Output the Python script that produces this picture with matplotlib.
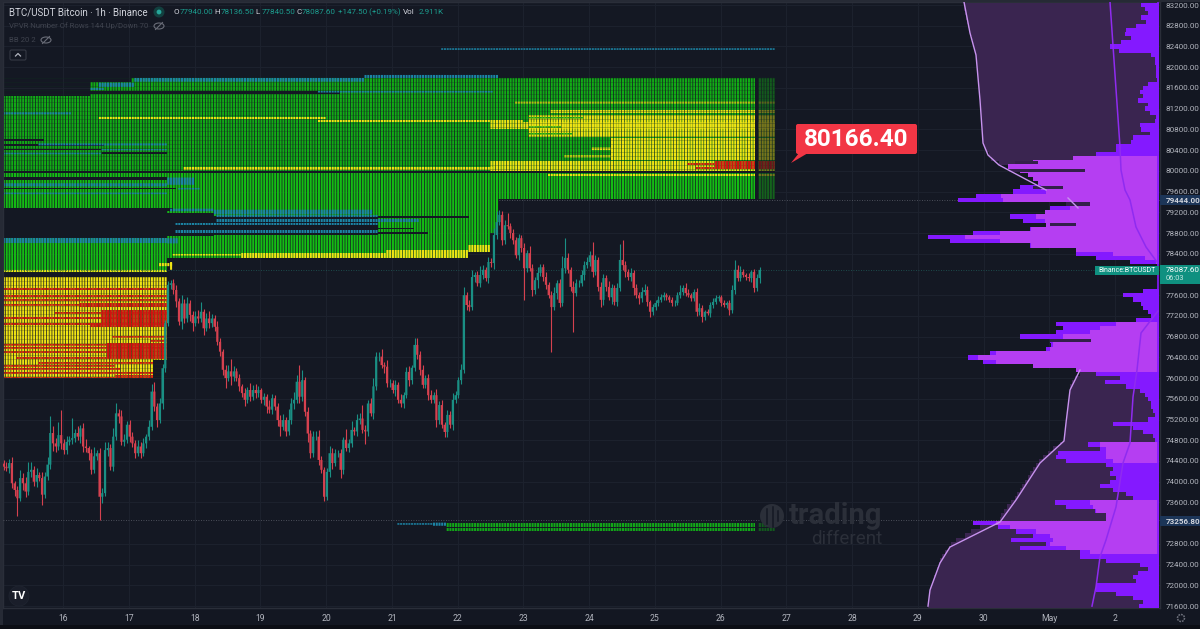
import numpy as np
import matplotlib
matplotlib.use("Agg")
import matplotlib.pyplot as plt
from matplotlib.patches import Circle, Ellipse, FancyBboxPatch, Polygon, Rectangle

plt.rcParams['font.family'] = ['Roboto', 'DejaVu Sans']

# hourly closes, first candle sits just after the left edge of the pane
closes = [
    74290, 74260, 74360, 73970, 73840, 73680, 74070, 73970, 73810, 74190,
    74230, 74000, 74130, 74070, 73750, 74100, 74330, 74940, 74740, 74680,
    74900, 74740, 74610, 74770, 74810, 74840, 74940, 74870, 75030, 74680,
    74650, 74550, 74230, 74490, 74550, 73710, 73780, 74610, 74650, 74290,
    74870, 75320, 75260, 74770, 74810, 75100, 74870, 74740, 74550, 74680,
    74550, 74740, 74870, 75060, 75740, 75450, 75190, 75510, 76190, 77060,
    77800, 77830, 77700, 77480, 77090, 77440, 77150, 77440, 77220, 77060,
    77190, 77150, 77280, 76960, 77150, 77060, 77150, 76990, 76700, 76510,
    76160, 76000, 76130, 76030, 76130, 76000, 75840, 75710, 75580, 75770,
    75640, 75770, 75710, 75770, 75580, 75640, 75450, 75390, 75610, 75450,
    75190, 75060, 75190, 74970, 75190, 75510, 75580, 75930, 75640, 75960,
    75350, 74930, 74550, 74870, 74870, 74420, 74230, 73710, 74190, 74550,
    74360, 74550, 74550, 74230, 74810, 74650, 74740, 75000, 74970, 75190,
    75220, 75000, 74970, 75510, 75320, 75840, 76415, 76415, 76250, 76220,
    75900, 75900, 75770, 75870, 75580, 75510, 75670, 76120, 75960, 76200,
    76640, 76450, 76160, 75870, 76000, 75670, 75580, 75670, 75190, 75480,
    75100, 74960, 75290, 75100, 75580, 75670, 75960, 76160, 77600, 77410,
    77370, 77950, 77990, 77830, 77990, 78090, 77930, 78240, 78220, 78760,
    79010, 79150, 78660, 78950, 78930, 78800, 78660, 78370, 78700, 78510,
    78120, 78410, 78120, 77700, 77890, 78030, 78140, 77950, 77800, 77600,
    77370, 77640, 77830, 77450, 78120, 78320, 78090, 77760, 77640, 77830,
    77830, 77990, 78180, 78240, 78370, 78050, 78280, 77760, 77510, 77930,
    77760, 77560, 77740, 77470, 77740, 78280, 78180, 78050, 77950, 78030,
    77740, 77600, 77540, 77660, 77700, 77470, 77280, 77370, 77450, 77510,
    77560, 77600, 77560, 77510, 77450, 77450, 77600, 77660, 77740, 77640,
    77600, 77540, 77660, 77280, 77350, 77180, 77280, 77250, 77410, 77470,
    77540, 77560, 77450, 77410, 77450, 77310, 77700, 78090, 77930, 78050,
    77990, 77950, 77930, 78050, 77740, 77930, 78087.6,
]
upper_wick = [
    60, 90, 70, 110, 40, 80, 150, 90, 120, 190,
    160, 70, 130, 60, 110, 90, 140, 320, 130, 100,
    250, 480, 90, 110, 70, 385, 80, 130, 60, 110,
    140, 40, 90, 180, 60, 100, 90, 150, 120, 80,
    170, 190, 80, 130, 110, 70, 100, 90, 60, 120,
    80, 100, 60, 130, 150, 190, 70, 110, 90, 60,
    80, 60, 90, 100, 70, 170, 90, 120, 60, 70,
    100, 130, 190, 60, 110, 150, 90, 70, 120, 80,
    60, 90, 120, 240, 100, 60, 70, 40, 90, 60,
    130, 90, 110, 80, 40, 70, 60, 120, 90, 60,
    70, 90, 110, 60, 210, 100, 150, 130, 330, 200,
    70, 90, 60, 100, 110, 120, 70, 60, 80, 130,
    100, 90, 60, 80, 60, 210, 90, 170, 60, 120,
    100, 260, 90, 60, 110, 160, 90, 90, 150, 60,
    120, 90, 70, 100, 60, 110, 70, 90, 110, 60,
    130, 140, 70, 90, 60, 80, 100, 60, 110, 80,
    90, 60, 100, 70, 130, 90, 60, 110, 160, 60,
    90, 140, 60, 70, 180, 100, 60, 90, 70, 130,
    220, 90, 70, 100, 230, 60, 80, 70, 90, 60,
    100, 70, 130, 90, 60, 120, 60, 70, 90, 60,
    80, 110, 60, 90, 230, 380, 90, 60, 120, 80,
    60, 90, 70, 100, 90, 260, 90, 60, 100, 80,
    60, 110, 70, 60, 90, 310, 380, 70, 60, 90,
    60, 80, 70, 90, 110, 70, 40, 60, 50, 70,
    60, 70, 40, 50, 60, 60, 70, 130, 60, 90,
    70, 50, 60, 70, 100, 60, 40, 50, 60, 70,
    60, 40, 50, 60, 40, 50, 100, 190, 90, 120,
    60, 40, 70, 40, 60, 70, 50,
]
lower_wick = [
    70, 60, 100, 90, 120, 350, 60, 130, 110, 60,
    90, 80, 100, 60, 190, 70, 60, 90, 140, 110,
    60, 100, 70, 80, 60, 90, 70, 60, 130, 100,
    70, 140, 90, 60, 80, 450, 120, 60, 110, 60,
    80, 60, 130, 70, 90, 60, 110, 70, 90, 60,
    100, 60, 80, 70, 60, 90, 140, 60, 100, 70,
    60, 90, 70, 110, 60, 140, 90, 60, 120, 150,
    60, 90, 70, 130, 60, 100, 70, 80, 60, 90,
    110, 200, 60, 170, 80, 60, 90, 70, 110, 60,
    80, 60, 90, 70, 60, 100, 130, 60, 80, 60,
    110, 180, 70, 90, 60, 70, 100, 60, 130, 90,
    80, 170, 90, 80, 60, 100, 70, 90, 60, 100,
    120, 60, 70, 150, 90, 60, 80, 70, 60, 90,
    70, 60, 240, 80, 60, 100, 70, 90, 60, 130,
    80, 70, 60, 110, 60, 70, 80, 60, 120, 70,
    60, 90, 100, 70, 60, 90, 70, 60, 130, 80,
    60, 90, 100, 60, 110, 70, 60, 80, 60, 90,
    70, 60, 100, 60, 80, 70, 60, 90, 70, 110,
    80, 60, 90, 70, 60, 100, 70, 60, 90, 80,
    610, 70, 60, 120, 70, 150, 60, 80, 90, 60,
    870, 60, 110, 70, 60, 90, 70, 80, 750, 60,
    70, 60, 90, 60, 70, 100, 60, 80, 130, 90,
    70, 60, 130, 60, 70, 60, 90, 100, 60, 80,
    130, 60, 110, 70, 60, 80, 100, 70, 60, 50,
    40, 60, 50, 40, 60, 50, 40, 60, 50, 60,
    40, 60, 50, 90, 60, 100, 60, 40, 70, 50,
    40, 60, 50, 40, 60, 90, 60, 70, 50, 60,
    40, 50, 60, 80, 70, 60, 90,
]

# liquidation heatmap: (first hour, last hour, top price, bottom price)
green_upper = [
    (0, 32, 81444, 79977), (32, 47, 81714, 81541), (32, 123, 81483, 79977),
    (47, 123, 81792, 81541), (123, 282, 81792, 79977),
]
green_lower = [
    (0, 60, 79977, 79244), (0, 60, 78704, 78047), (60, 170, 79977, 78318),
    (170, 178, 79977, 78433), (178, 181, 79977, 78800), (181, 282, 79977, 79456),
]
yellow = [
    (0, 60, 77951, 76349), (0, 55, 76349, 76002), (0, 60, 78087, 78047),
    (62, 87, 78395, 78365), (87, 140, 78414, 78318), (140, 170, 78472, 78318),
    (170, 178, 78569, 78433), (57, 62, 78220, 78160), (61, 62, 78240, 78090),
    (35, 118, 81039, 81000), (115, 190, 80981, 80942), (66, 179, 80074, 80016),
    (178, 282, 80190, 79977), (187, 282, 81334, 81300), (200, 282, 81174, 81116),
    (192, 282, 81077, 80653), (178, 282, 80942, 80807), (222, 282, 80634, 80209),
    (215, 222, 80450, 80400), (205, 222, 80300, 80260), (199, 282, 79939, 79900),
]
green_detail = [
    (192, 212, 81040, 81010), (192, 204, 80860, 80830), (192, 208, 80730, 80700),
]
red = [
    (0, 60, 77739, 77700), (0, 60, 77604, 77565), (0, 60, 77526, 77490),
    (28, 60, 77449, 77372), (0, 28, 77430, 77395), (19, 60, 77275, 77240),
    (36, 60, 77314, 77063), (0, 47, 77179, 77140), (0, 60, 77063, 77025),
    (32, 60, 77063, 76986), (40, 60, 76812, 76780), (54, 60, 76735, 76700),
    (38, 60, 76677, 76407), (0, 60, 76660, 76625), (0, 60, 76600, 76565),
    (0, 40, 76520, 76485), (5, 60, 76407, 76370), (13, 55, 76310, 76275),
    (0, 41, 76253, 76218), (0, 43, 76195, 76160), (0, 55, 76117, 76082),
    (41, 55, 76060, 76025), (0, 55, 76021, 76002), (260, 282, 80190, 80035),
    (250, 260, 80150, 80113), (253, 260, 80074, 80035),
]
gaps = [
    (0, 60, 79244, 78704), (59, 77, 79186, 78742), (77, 137, 79109, 78762),
    (32, 123, 81541, 81483), (0, 60, 79881, 79823), (0, 63, 79669, 79640),
    (0, 62, 79283, 79225), (0, 36, 80420, 80395), (36, 60, 80360, 80320),
    (0, 15, 80610, 80580), (0, 37, 80510, 80480), (0, 282, 79990, 79965),
    (61, 170, 79120, 79090), (61, 150, 78905, 78880), (61, 155, 78810, 78785),
]
teal = [
    (132, 181, 81850, 81792), (48, 132, 81792, 81720), (35, 48, 81700, 81620),
    (32, 37, 81600, 81560), (0, 25, 81130, 81090), (115, 179, 81541, 81510),
    (13, 60, 80530, 80490), (36, 60, 80420, 80395), (0, 36, 80350, 80320),
    (0, 60, 79760, 79700), (60, 70, 79870, 79730), (64, 72, 79670, 79640),
    (0, 60, 79580, 79550), (61, 77, 79270, 79220), (77, 135, 79250, 79160),
    (78, 137, 79148, 79109), (78, 137, 79070, 79012), (63, 137, 78993, 78955),
    (63, 137, 78858, 78800), (137, 152, 79070, 79012), (0, 60, 78704, 78607),
    (60, 64, 78700, 78600), (144, 157, 73200, 73170), (160, 282, 82365, 82335),
    (157, 162, 73210, 73150),
]
low_green = [(162, 282, 73203, 73126), (162, 282, 73106, 73049)]

# visible range volume profile, one row per 80 USD from 83200 downwards
vp_rows = list(range(83200, 71520, -80))
vp_bright = [
    18, 14, 11, 18, 13, 23, 33, 34, 28, 38,
    49, 40, 8, 4, 4, 3, 3, 3, 2, 11,
    16, 19, 16, 21, 11, 14, 9, 3, 4, 19,
    18, 9, 26, 28, 43, 43, 63, 86, 126, 151,
    139, 131, 126, 121, 139, 146, 183, 201, 93, 109,
    114, 149, 136, 113, 129, 186, 231, 209, 129, 83,
    83, 63, 29, 0, 0, 0, 0, 0, 0, 16,
    36, 26, 18, 16, 11, 8, 23, 103, 96, 103,
    139, 109, 108, 113, 169, 191, 176, 126, 83, 63,
    39, 54, 33, 19, 14, 11, 8, 8, 6, 4,
    11, 46, 26, 16, 6, 4, 71, 59, 101, 103,
    93, 53, 46, 49, 43, 49, 59, 46, 33, 26,
    104, 93, 64, 53, 53, 186, 161, 143, 126, 148,
    113, 139, 79, 79, 53, 19, 11, 21, 26, 23,
    63, 63, 43, 26, 16, 20,
]
vp_light = [0] * 37 + [
    86, 126, 151, 139, 131, 126, 121, 118, 113, 158, 156, 86, 89,
    114, 123, 114, 113, 128, 159, 194, 159, 128, 83, 46, 14, 3,
] + [0] * 14 + [
    43, 59, 69, 96, 106, 106, 109, 163, 181, 163, 126, 83,
] + [0] * 17 + [59, 53, 53, 53, 46] + [0] * 9 + [
    69, 66, 63, 53, 53, 163, 149, 123, 109, 106, 109, 93, 69,
] + [0] * 13
vp_shade = [
    195, 195, 194, 193, 192, 191, 190, 189, 187, 186,
    185, 184, 183, 182, 182, 182, 181, 181, 181, 180,
    180, 180, 179, 179, 179, 178, 178, 178, 177, 177,
    177, 177, 176, 176, 175, 173, 170, 168, 160,
] + [0] * 50 + [
    79, 84, 87, 89, 89, 90, 90, 91, 91, 92, 92, 92, 93, 94, 94, 95, 95,
    99, 106, 111, 116, 120, 123, 126, 129, 131, 134, 137, 139, 142, 144,
    148, 152, 155, 158, 159, 169, 179, 188, 194, 203, 208, 210, 214, 217,
    219, 220, 222, 223, 225, 226, 227, 229, 229, 230, 230, 231,
]
tip_prices = [80160, 80000, 79680, 79360, 78960, 76720]
tip_from = [121, 74, 96, 69, 83, 68]
tip_to = [144, 150, 126, 93, 109, 109]

# the two overlay curves on the profile (price, distance from the right edge)
outer_top_p = [83258, 82660, 82235, 81367, 80537, 80305, 80112, 79630]
outer_top_v = [195, 189, 183, 179, 176, 171, 160, 113]
outer_mid_p = [79476, 79283]
outer_mid_v = [91, 81]
outer_low_p = [76156, 75770, 75133, 74786, 74361, 73647, 73222, 72740, 72431, 71910, 71600]
outer_low_v = [79, 89, 93, 95, 119, 143, 159, 209, 219, 229, 231]
inner_top_p = [83258, 80460, 80016, 79630, 79437, 78916, 78530, 78240]
inner_top_v = [49, 39, 38, 34, 29, 23, 13, 2]
inner_low_p = [77295, 76870, 76156, 75635, 74747, 74361, 73512, 72875, 72547, 71968, 71600]
inner_low_v = [1, 18, 22, 26, 29, 36, 43, 53, 59, 63, 67]

price_ticks = [p for p in range(71600, 83600, 400) if p not in (78000, 73200)]
day_ticks = list(range(16, 33))
day_labels = ['16', '17', '18', '19', '20', '21', '22', '23', '24', '25', '26',
              '27', '28', '29', '30', 'May', '2']

BG = '#131722'
PANE = '#141823'
W, H = 1200, 629

first_day = 15.083
DAY_MIN, DAY_MAX = 15.083, 32.685
P_MAX, P_MIN = 83258, 71563


def hour_to_day(h):
    return first_day + np.asarray(h, dtype=float) / 24


def draw_bands(ax, bands, color, width=0.74, zorder=2):
    for start, end, top, bottom in bands:
        if width >= 1:
            ax.broken_barh([(hour_to_day(start), (end - start) / 24)], (bottom, top - bottom),
                           facecolors=color, edgecolor='none', zorder=zorder)
            continue
        spans = [(hour_to_day(h), width / 24) for h in range(start, end)]
        cells = ax.broken_barh(spans, (bottom, top - bottom), facecolors=color, edgecolor='none', zorder=zorder)
        cells.set_snap(False)


fig = plt.figure(figsize=(12, 6.29), dpi=100, facecolor=BG)
ax = fig.add_axes([3 / W, 1 - 608 / H, (1160 - 3) / W, (608 - 2) / H], facecolor=PANE)
ax.set_xlim(DAY_MIN, DAY_MAX)
ax.set_ylim(P_MIN, P_MAX)

# axes and grid
ax.yaxis.tick_right()
ax.set_yticks(price_ticks)
ax.set_yticklabels([f'{p:.2f}' for p in price_ticks], fontsize=5.8, color='#b2b5be')
ax.set_xticks(day_ticks)
ax.set_xticklabels(day_labels, fontsize=6.2, color='#b2b5be')
ax.tick_params(axis='y', length=0, pad=4.3)
ax.tick_params(axis='x', length=0, pad=4.5)
ax.grid(True, color='#1d222e', lw=0.7)
ax.set_axisbelow(True)
for side, spine in ax.spines.items():
    spine.set_color('#2a2e39')
    spine.set_linewidth(1.0)

# heatmap
draw_bands(ax, green_upper, '#12ab16')
draw_bands(ax, green_lower, '#14bc14')
draw_bands(ax, yellow, '#f0e414', zorder=2.1)
draw_bands(ax, green_detail, '#12ab16', zorder=2.2)
draw_bands(ax, red, '#d01210', zorder=2.3)
draw_bands(ax, gaps, PANE, width=1, zorder=2.4)
draw_bands(ax, teal, '#1c85a6', zorder=2.5)
draw_bands(ax, low_green, '#12a818', zorder=2.1)

# thin row separators in the cell blocks
row_lines = np.arange(81800, 79980, -80)
ax.hlines(row_lines, hour_to_day(0), hour_to_day(282), color='#10301c', lw=0.4, alpha=0.45, zorder=2.2)
left_lines = np.arange(77960, 76000, -80)
ax.hlines(left_lines, hour_to_day(0), hour_to_day(60), color='#2b2a10', lw=0.4, alpha=0.4, zorder=2.2)

# future columns are dimmed, a dark gap in front of them
for bottom, top in ((79456, 81792), (73049, 73203)):
    ax.broken_barh([(hour_to_day(275), 7 / 24)], (bottom, top - bottom), facecolors=PANE,
                   alpha=0.55, edgecolor='none', zorder=2.6)
    ax.broken_barh([(hour_to_day(274.6), 0.9 / 24)], (bottom, top - bottom), facecolors=PANE,
                   edgecolor='none', zorder=2.7)

# dotted levels and last price line
ax.hlines(79444, hour_to_day(181), DAY_MAX, color='#5d606b', lw=0.6, ls=(0, (1, 2)), zorder=3)
ax.hlines(73256.8, DAY_MIN, DAY_MAX, color='#5d606b', lw=0.6, ls=(0, (1, 2)), zorder=3)
ax.hlines(78087.6, DAY_MIN, DAY_MAX, color='#1f5c58', lw=0.6, ls=(0, (1, 2)), zorder=3)

# candles
closes = np.array(closes)
opens = np.r_[closes[0] + 60, closes[:-1]]
highs = np.maximum(opens, closes) + np.array(upper_wick)
lows = np.minimum(opens, closes) - np.array(lower_wick)
candle_days = hour_to_day(np.arange(len(closes)) + 0.25)
up = closes >= opens
candle_colors = np.where(up, '#1a8f84', '#d5414f')
ax.vlines(candle_days, lows, highs, colors=candle_colors, lw=0.8, zorder=4)
bars = ax.bar(candle_days, np.abs(closes - opens), bottom=np.minimum(opens, closes), width=0.8 / 24,
              color=candle_colors, edgecolor='none', zorder=4.1)
for b in bars:
    b.set_snap(False)

# volume profile on its own axes, x is distance from the right edge
vp = fig.add_axes([3 / W, 1 - 608 / H, (1159 - 3) / W, (608 - 2) / H], facecolor='none', zorder=3)
vp.set_xlim(1156, 0)
vp.set_ylim(P_MIN, P_MAX)
vp.axis('off')
vp.barh(vp_rows, vp_shade, height=84, color='#3a2550', edgecolor='none', zorder=1)
vp.barh(vp_rows, vp_bright, height=84, color='#8419ff', edgecolor='none', zorder=2)
vp.barh(vp_rows, vp_light, height=84, color='#b53ef2', edgecolor='none', zorder=3)
vp.barh(tip_prices, np.array(tip_to) - np.array(tip_from), left=tip_from, height=60,
        color='#33204a', edgecolor='none', zorder=4)
vp.axvline(0.6, color='#8419ff', lw=1.2, zorder=5)
for p_list, v_list in ((outer_top_p, outer_top_v), (outer_mid_p, outer_mid_v), (outer_low_p, outer_low_v)):
    vp.plot(v_list, p_list, color='#c792ee', lw=1.0, zorder=6)
for p_list, v_list in ((inner_top_p, inner_top_v), (inner_low_p, inner_low_v)):
    vp.plot(v_list, p_list, color='#8f2bf0', lw=1.1, zorder=6)

# header, price badges and the small decorations, in pixel coordinates
ov = fig.add_axes([0, 0, 1, 1], facecolor='none', zorder=5)
ov.set_xlim(0, W)
ov.set_ylim(H, 0)
ov.axis('off')

# callout with the level of the heatmap
ov.add_patch(FancyBboxPatch((796, 124), 121, 30, boxstyle='round,pad=0,rounding_size=2', fc='#f23645', ec='none'))
ov.add_patch(Polygon([(799, 153), (808, 153), (791, 163)], fc='#f23645', ec='none'))
ov.text(856.5, 139.5, '80166.40', fontsize=17.5, fontweight='bold', color='white', ha='center', va='center')

ov.text(9, 12, 'BTC/USDT Bitcoin · 1h · Binance', fontsize=7.0, color='#d1d4dc', va='center')
ov.add_patch(Circle((159, 12), 5.5, fc='#12403f', ec='none'))
ov.add_patch(Circle((159, 12), 2.4, fc='#26a69a', ec='none'))
x = 174
for letter, value in (('O', '77940.00'), ('H', '78136.50'), ('L', '77840.50'), ('C', '78087.60')):
    ov.text(x, 12, letter, fontsize=5.8, color='#d1d4dc', va='center')
    ov.text(x + 6, 12, value, fontsize=5.8, color='#1c9c8e', va='center')
    x += 40.7
ov.text(x + 1, 12, '+147.50 (+0.19%)', fontsize=5.8, color='#1c9c8e', va='center')
ov.text(x + 66, 12, 'Vol', fontsize=5.8, color='#d1d4dc', va='center')
ov.text(x + 82, 12, '2.911K', fontsize=5.8, color='#1c9c8e', va='center')
ov.text(9, 26, 'VPVR Number Of Rows 144 Up/Down 70', fontsize=5.6, color='#3f434e', va='center')
ov.text(9, 40, 'BB 20 2', fontsize=5.6, color='#3f434e', va='center')
for ex, ey in ((159, 26), (46, 40)):
    ov.add_patch(Ellipse((ex, ey), 10, 6, fc='none', ec='#6a6d78', lw=0.8))
    ov.plot([ex - 3.5, ex + 3.5], [ey + 3.5, ey - 3.5], color='#6a6d78', lw=0.8)
ov.add_patch(FancyBboxPatch((10, 50), 16, 10, boxstyle='round,pad=0,rounding_size=1.5', fc='none',
                            ec='#363a45', lw=0.8))
ov.plot([15.5, 18, 20.5], [56, 53.5, 56], color='#b2b5be', lw=0.9)

# badges over the price scale
for y0, y1, color in ((195, 205, '#1c3558'), (516, 526, '#1c3558')):
    ov.add_patch(Rectangle((1160, y0), 40, y1 - y0, fc=color, ec='none'))
ov.text(1166, 200.3, '79444.00', fontsize=5.8, color='#d1d4dc', va='center', fontweight='bold')
ov.text(1166, 521.2, '73256.80', fontsize=5.8, color='#d1d4dc', va='center', fontweight='bold')
ov.add_patch(Rectangle((1160, 265), 40, 19, fc='#0f9080', ec='none'))
ov.text(1166, 270.5, '78087.60', fontsize=5.8, color='white', va='center')
ov.text(1166, 279, '06:03', fontsize=5.4, color='#c6e8e3', va='center')
ov.add_patch(Rectangle((1095, 266), 63.5, 9, fc='#0f9080', ec='none'))
ov.text(1098.5, 270.7, 'Binance:BTCUSDT', fontsize=5.0, color='white', va='center')

# watermark
ov.add_patch(Circle((772, 516), 12, fc='#2b2f39', ec='none'))
for bx, by0, by1 in ((767, 509, 524), (773, 507, 527), (778, 511, 521)):
    ov.plot([bx, bx], [by0, by1], color=PANE, lw=1.1)
ov.text(789, 516, 'trading', fontsize=21, fontweight='bold', color='#2b2f39', va='center')
ov.text(811, 539.5, 'different', fontsize=13.5, color='#2b2f39', va='center')

# TradingView mark and the gear
ov.add_patch(Circle((19, 596), 10, fc='#1a1e2a', ec='#1f2430', lw=0.6))
ov.text(19, 596, 'TV', fontsize=8, fontweight='bold', color='white', ha='center', va='center')
ov.add_patch(Circle((1181, 618), 3.5, fc='none', ec='#6a6d78', lw=1.1, ls=(0, (1.2, 0.6))))

ov.add_patch(Rectangle((0, 625), W, 4, fc='#0c0e15', ec='none'))
ov.add_patch(Rectangle((0, 0), 3, 625, fc='#262a35', ec='none'))
ov.add_patch(Rectangle((0, 0), W, 2, fc='#262a35', ec='none'))

fig.savefig('out.png', dpi=100, facecolor=fig.get_facecolor())
